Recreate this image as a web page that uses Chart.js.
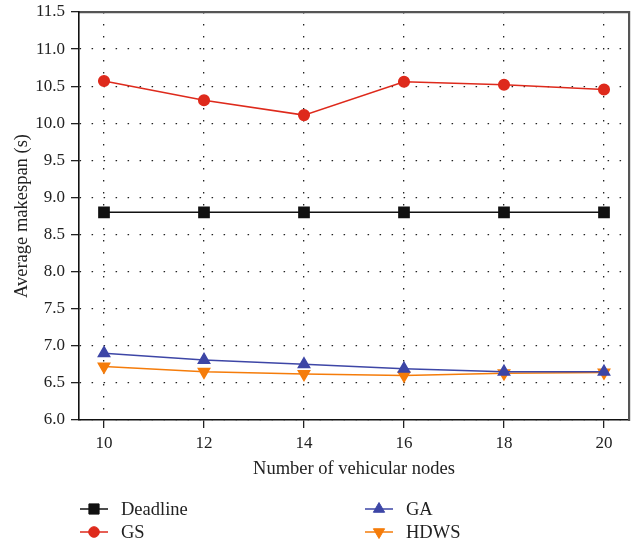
<!DOCTYPE html>
<html>
<head>
<meta charset="utf-8">
<script src="https://cdn.jsdelivr.net/npm/chart.js@4/dist/chart.umd.min.js"></script>
<style>
  html, body { margin: 0; padding: 0; background: #fff; }
  #wrap { width: 632px; height: 546px; }
</style>
</head>
<body>
<div id="wrap"><canvas id="makespanChart" width="632" height="546"></canvas></div>
<script>
// data
const nodes = [10, 12, 14, 16, 18, 20];
const deadline = [8.8, 8.8, 8.8, 8.8, 8.8, 8.8];
const gs = [10.57, 10.31, 10.11, 10.56, 10.52, 10.455];
const ga = [6.9, 6.81, 6.75, 6.69, 6.65, 6.65];
const hdws = [6.72, 6.65, 6.62, 6.6, 6.63, 6.64];
const xTicks = [10, 12, 14, 16, 18, 20];

const serif = "'Liberation Serif', 'Times New Roman', serif";

const toPoints = ys => ys.map((y, i) => ({ x: nodes[i], y: y }));

// stop axes from reserving extra room for overhanging labels
const noOverhang = axis => {
    axis.paddingLeft = 0;
    axis.paddingRight = 0;
    axis.paddingTop = 0;
    axis.paddingBottom = 0;
};

// legend in two columns under the axis title
const legendSlots = [[80, 509], [80, 532], [365, 509], [365, 532]];
const twoColLegend = {
    id: 'twoColLegend',
    afterDraw(chart) {
        const ctx = chart.ctx;
        chart.data.datasets.forEach((ds, i) => {
            const [x0, y] = legendSlots[i];
            ctx.save();
            ctx.strokeStyle = ds.borderColor;
            ctx.lineWidth = 1.5;
            ctx.beginPath();
            ctx.moveTo(x0, y);
            ctx.lineTo(x0 + 28, y);
            ctx.stroke();
            ctx.fillStyle = ds.pointBackgroundColor;
            ctx.strokeStyle = ds.pointBackgroundColor;
            ctx.lineWidth = 1;
            Chart.helpers.drawPoint(ctx, {
                pointStyle: ds.pointStyle,
                rotation: ds.pointRotation || 0,
                radius: ds.pointRadius,
                borderWidth: 1
            }, x0 + 14, y);
            ctx.fillStyle = '#222';
            ctx.font = '18.5px ' + serif;
            ctx.textBaseline = 'middle';
            ctx.fillText(ds.label, x0 + 41, y + 1);
            ctx.restore();
        });
    }
};

const ctx = document.getElementById('makespanChart').getContext('2d');
const makespanChart = new Chart(ctx, {
    type: 'line',
    data: {
        datasets: [
            {
                label: 'Deadline',
                data: toPoints(deadline),
                borderColor: '#111111',
                backgroundColor: '#111111',
                pointBackgroundColor: '#111111',
                pointBorderColor: '#111111',
                pointStyle: 'rect',
                pointRadius: 7.2,
                borderWidth: 1.5
            },
            {
                label: 'GS',
                data: toPoints(gs),
                borderColor: '#de2a1c',
                backgroundColor: '#de2a1c',
                pointBackgroundColor: '#de2a1c',
                pointBorderColor: '#de2a1c',
                pointStyle: 'circle',
                pointRadius: 5.3,
                borderWidth: 1.5
            },
            {
                label: 'GA',
                data: toPoints(ga),
                borderColor: '#3d46a6',
                backgroundColor: '#3d46a6',
                pointBackgroundColor: '#3d46a6',
                pointBorderColor: '#3d46a6',
                pointStyle: 'triangle',
                pointRadius: 6.5,
                borderWidth: 1.5
            },
            {
                label: 'HDWS',
                data: toPoints(hdws),
                borderColor: '#f57c0a',
                backgroundColor: '#f57c0a',
                pointBackgroundColor: '#f57c0a',
                pointBorderColor: '#f57c0a',
                pointStyle: 'triangle',
                pointRotation: 180,
                pointRadius: 6.5,
                borderWidth: 1.5
            }
        ]
    },
    options: {
        responsive: false,
        animation: false,
        layout: { autoPadding: false, padding: { left: 0, right: 3, top: 12, bottom: 66 } },
        plugins: {
            legend: { display: false },
            tooltip: { enabled: false }
        },
        scales: {
            x: {
                type: 'linear',
                min: 9.5,
                max: 20.5,
                afterBuildTicks: axis => { axis.ticks = xTicks.map(v => ({ value: v })); },
                afterFit: axis => { axis.height = 60; noOverhang(axis); },
                ticks: {
                    color: '#222',
                    font: { family: serif, size: 17 },
                    padding: 5,
                    maxRotation: 0
                },
                grid: {
                    color: '#222',
                    lineWidth: 1.3,
                    tickLength: 8,
                    tickColor: '#222',
                    tickWidth: 1.3,
                    tickBorderDash: []
                },
                border: { color: '#111', width: 1.6, dash: [1.5, 10.5] },
                title: {
                    display: true,
                    text: 'Number of vehicular nodes',
                    color: '#222',
                    font: { family: serif, size: 18.5 },
                    padding: { top: 4, bottom: 0 }
                }
            },
            x2: {
                type: 'linear',
                position: 'top',
                min: 9.5,
                max: 20.5,
                afterFit: axis => { axis.height = 0; noOverhang(axis); },
                ticks: { display: false },
                grid: { drawOnChartArea: false, drawTicks: false },
                border: { color: '#555', width: 2.2 }
            },
            y: {
                min: 6,
                max: 11.5,
                afterFit: axis => { axis.width = 79; noOverhang(axis); },
                ticks: {
                    stepSize: 0.5,
                    color: '#222',
                    font: { family: serif, size: 17 },
                    padding: 6,
                    callback: v => v.toFixed(1)
                },
                grid: {
                    color: ctx => ctx.tick && ctx.tick.value >= 11.5 ? 'rgba(0,0,0,0)' : '#222',
                    lineWidth: 1.3,
                    tickLength: 8,
                    tickColor: '#222',
                    tickWidth: 1.3,
                    tickBorderDash: []
                },
                border: { color: '#111', width: 1.6, dash: [1.5, 10.5] },
                title: {
                    display: true,
                    text: 'Average makespan (s)',
                    color: '#222',
                    font: { family: serif, size: 18.5 },
                    padding: { top: 11, bottom: 2 }
                }
            },
            y2: {
                position: 'right',
                min: 6,
                max: 11.5,
                afterFit: axis => { axis.width = 0; noOverhang(axis); },
                ticks: { display: false },
                grid: { drawOnChartArea: false, drawTicks: false },
                border: { color: '#555', width: 2.2 }
            }
        }
    },
    plugins: [twoColLegend]
});
</script>
</body>
</html>
